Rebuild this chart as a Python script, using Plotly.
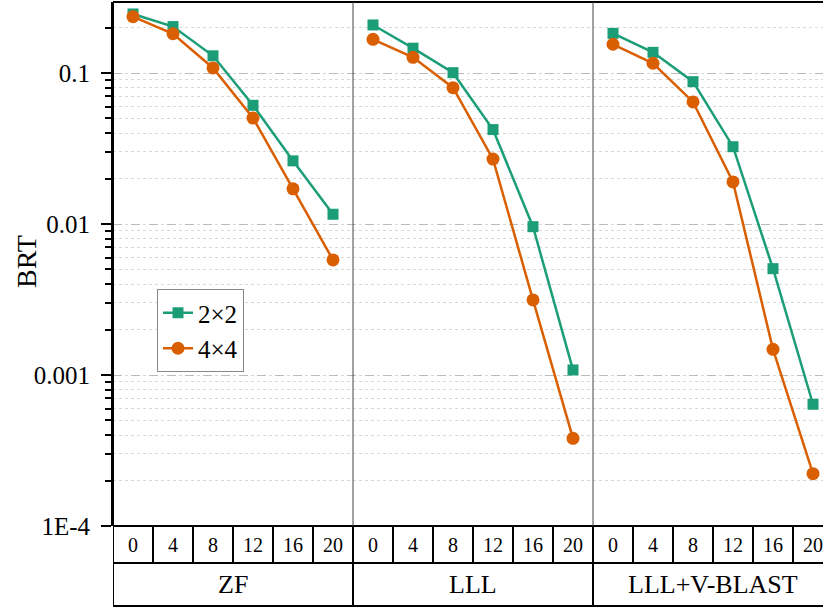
import plotly.graph_objects as go

# ---------------- data ----------------
groups = ["ZF", "LLL", "LLL+V-BLAST"]
snr = [0, 4, 8, 12, 16, 20]
series_names = ["2×2", "4×4"]

zf_2x2 = [0.246, 0.203, 0.130, 0.0611, 0.0262, 0.0116]
zf_4x4 = [0.236, 0.182, 0.108, 0.0503, 0.0171, 0.00578]
lll_2x2 = [0.208, 0.146, 0.1005, 0.0422, 0.0096, 0.00108]
lll_4x4 = [0.167, 0.127, 0.080, 0.0269, 0.00314, 0.000381]
vb_2x2 = [0.183, 0.137, 0.0876, 0.0325, 0.00506, 0.00064]
vb_4x4 = [0.155, 0.116, 0.0643, 0.0190, 0.00148, 0.000222]

y_ticks = [1e-4, 1e-3, 1e-2, 1e-1]
y_ticktext = ["1E-4", "0.001", "0.01", "0.1"]

colors = ["#1b9e77", "#d95f02"]
symbols = ["square", "circle"]
msizes = [11, 13]
FONT = "Liberation Serif"

data_by_series = [[zf_2x2, lll_2x2, vb_2x2], [zf_4x4, lll_4x4, vb_4x4]]
n = len(snr)

fig = go.Figure()
for si, name in enumerate(series_names):
    xs, ys = [], []
    for gi, vals in enumerate(data_by_series[si]):
        for j, v in enumerate(vals):
            xs.append(gi * n + j)
            ys.append(v)
        xs.append(None)
        ys.append(None)
    fig.add_trace(go.Scatter(
        x=xs, y=ys, name=name, mode="lines+markers",
        line=dict(color=colors[si], width=2.5),
        marker=dict(symbol=symbols[si], size=msizes[si], color=colors[si]),
        connectgaps=False,
    ))

# geometry helpers (paper coords for table rows)
W, H = 823, 608
ml, mr, mt, mb = 113, 0, 2, 82
ph = H - mt - mb
row1 = -37 / ph
row2 = -80 / ph
xmax = -0.5 + (W - ml - mr) / 40.0

shapes = []
black = dict(color="black", width=2)
# top border
shapes.append(dict(type="line", xref="x", yref="paper", x0=-0.5, x1=xmax, y0=1, y1=1, line=black))
# left axis line through table
shapes.append(dict(type="line", xref="x", yref="paper", x0=-0.5, x1=-0.5, y0=row2, y1=1, line=black))
# horizontal table lines
for yy in [0, row1, row2]:
    shapes.append(dict(type="line", xref="x", yref="paper", x0=-0.5, x1=xmax, y0=yy, y1=yy, line=black))
# cell separators
total = n * len(groups)
for k in range(1, total + 1):
    xb = k - 0.5
    if k % n == 0:
        shapes.append(dict(type="line", xref="x", yref="paper", x0=xb, x1=xb, y0=row2, y1=0, line=black))
        if k < total:
            shapes.append(dict(type="line", xref="x", yref="paper", x0=xb, x1=xb, y0=0, y1=1,
                               line=dict(color="#444444", width=1)))
    else:
        shapes.append(dict(type="line", xref="x", yref="paper", x0=xb, x1=xb, y0=row1, y1=0, line=black))

annotations = []
for gi, g in enumerate(groups):
    for j, s in enumerate(snr):
        annotations.append(dict(x=gi * n + j, y=row1 / 2, xref="x", yref="paper", text=str(s),
                                showarrow=False, font=dict(family=FONT, size=20, color="black"),
                                xanchor="center", yanchor="middle"))
    annotations.append(dict(x=gi * n + (n - 1) / 2, y=(row1 + row2) / 2, xref="x", yref="paper", text=g,
                            showarrow=False, font=dict(family=FONT, size=26, color="black"),
                            xanchor="center", yanchor="middle"))
annotations.append(dict(x=(26 - ml) / (W - ml - mr), y=(526 - 262) / ph, xref="paper", yref="paper",
                        text="BRT", textangle=-90, showarrow=False,
                        font=dict(family=FONT, size=28, color="black"),
                        xanchor="center", yanchor="middle"))

fig.update_layout(
    width=W, height=H,
    margin=dict(l=ml, r=mr, t=mt, b=mb),
    paper_bgcolor="white", plot_bgcolor="white",
    font=dict(family=FONT, color="black"),
    shapes=shapes, annotations=annotations,
    legend=dict(x=(157 - ml) / (W - ml), y=(526 - 289) / ph, xanchor="left", yanchor="top",
                bgcolor="white", bordercolor="#888888", borderwidth=1,
                font=dict(family=FONT, size=25, color="black"), tracegroupgap=0),
    xaxis=dict(range=[-0.5, xmax], showticklabels=False, ticks="", showgrid=False,
               zeroline=False, showline=False),
    yaxis=dict(type="log", range=[-4, -1 + (73 - mt) / 151.0],
               tickvals=y_ticks, ticktext=y_ticktext,
               ticks="outside", ticklen=10, tickwidth=2, tickcolor="black",
               tickfont=dict(family=FONT, size=25, color="black"),
               ticklabelstandoff=6,
               showline=True, linecolor="black", linewidth=2,
               showgrid=True, gridcolor="#bbbbbb", griddash="dash", gridwidth=1,
               zeroline=False,
               minor=dict(dtick="D1", ticks="outside", ticklen=6, tickwidth=1.5, tickcolor="black",
                          showgrid=True, gridcolor="#d8d8d8", griddash="dot", gridwidth=1)),
)

fig.write_html("out.html", config={"displayModeBar": False},
               post_script="document.body.style.margin='0';document.body.style.overflow='hidden';")
